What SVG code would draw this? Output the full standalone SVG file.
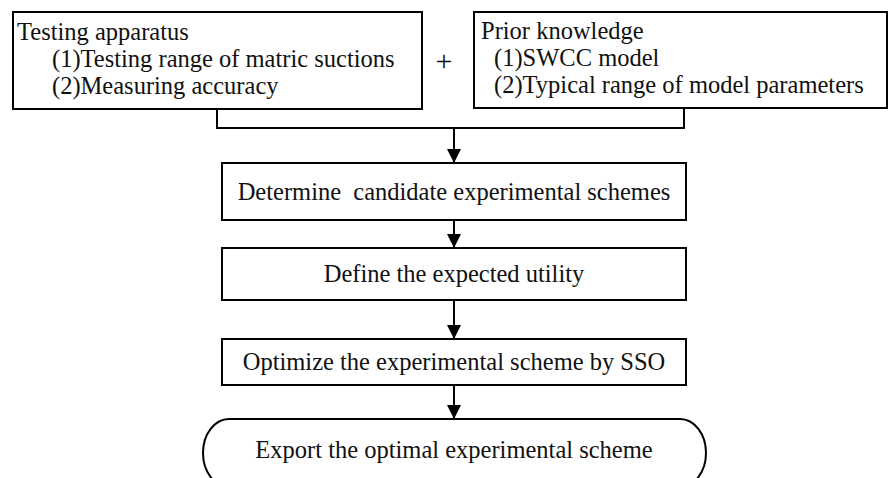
<svg xmlns="http://www.w3.org/2000/svg" width="889" height="478" viewBox="0 0 889 478">
<style>
.box{fill:#fff;stroke:#000;stroke-width:2}
.t{font-family:"Liberation Serif","Times New Roman",serif;font-size:24.5px;fill:#111;white-space:pre}
.c{text-anchor:middle}
.ln{fill:none;stroke:#000;stroke-width:2}
</style>
<defs>
<marker id="ah" markerUnits="userSpaceOnUse" markerWidth="14" markerHeight="14" refX="14" refY="7" orient="auto">
<path d="M0,0 L14,7 L0,14 Z" fill="#000"/>
</marker>
</defs>
<rect width="889" height="478" fill="#fff"/>
<g id="connectors">
<path class="ln" d="M217,109 V128 H684 V108"/>
<path class="ln" d="M454,128 V163" marker-end="url(#ah)"/>
<path class="ln" d="M454,220 V248" marker-end="url(#ah)"/>
<path class="ln" d="M454,300 V339" marker-end="url(#ah)"/>
<path class="ln" d="M454,385 V419" marker-end="url(#ah)"/>
</g>
<g id="testing">
<rect class="box" x="13" y="12" width="409" height="97"/>
<text class="t" x="17" y="40">Testing apparatus</text>
<text class="t" x="52" y="67">(1)Testing range of matric suctions</text>
<text class="t" x="52" y="94">(2)Measuring accuracy</text>
</g>
<text class="t c" x="444" y="71" style="font-size:30px">+</text>
<g id="prior">
<rect class="box" x="474" y="12" width="413" height="96"/>
<text class="t" x="481" y="39">Prior knowledge</text>
<text class="t" x="494" y="66">(1)SWCC model</text>
<text class="t" x="494" y="93">(2)Typical range of model parameters</text>
</g>
<g id="determine">
<rect class="box" x="222" y="163" width="464" height="57"/>
<text class="t c" x="454" y="200">Determine  candidate experimental schemes</text>
</g>
<g id="define">
<rect class="box" x="222" y="248" width="464" height="52"/>
<text class="t c" x="454" y="282">Define the expected utility</text>
</g>
<g id="optimize">
<rect class="box" x="222" y="339" width="464" height="46"/>
<text class="t c" x="454" y="370">Optimize the experimental scheme by SSO</text>
</g>
<g id="export">
<rect class="box" x="203" y="419" width="503" height="68" rx="26" ry="34"/>
<text class="t c" x="454" y="458">Export the optimal experimental scheme</text>
</g>
</svg>
